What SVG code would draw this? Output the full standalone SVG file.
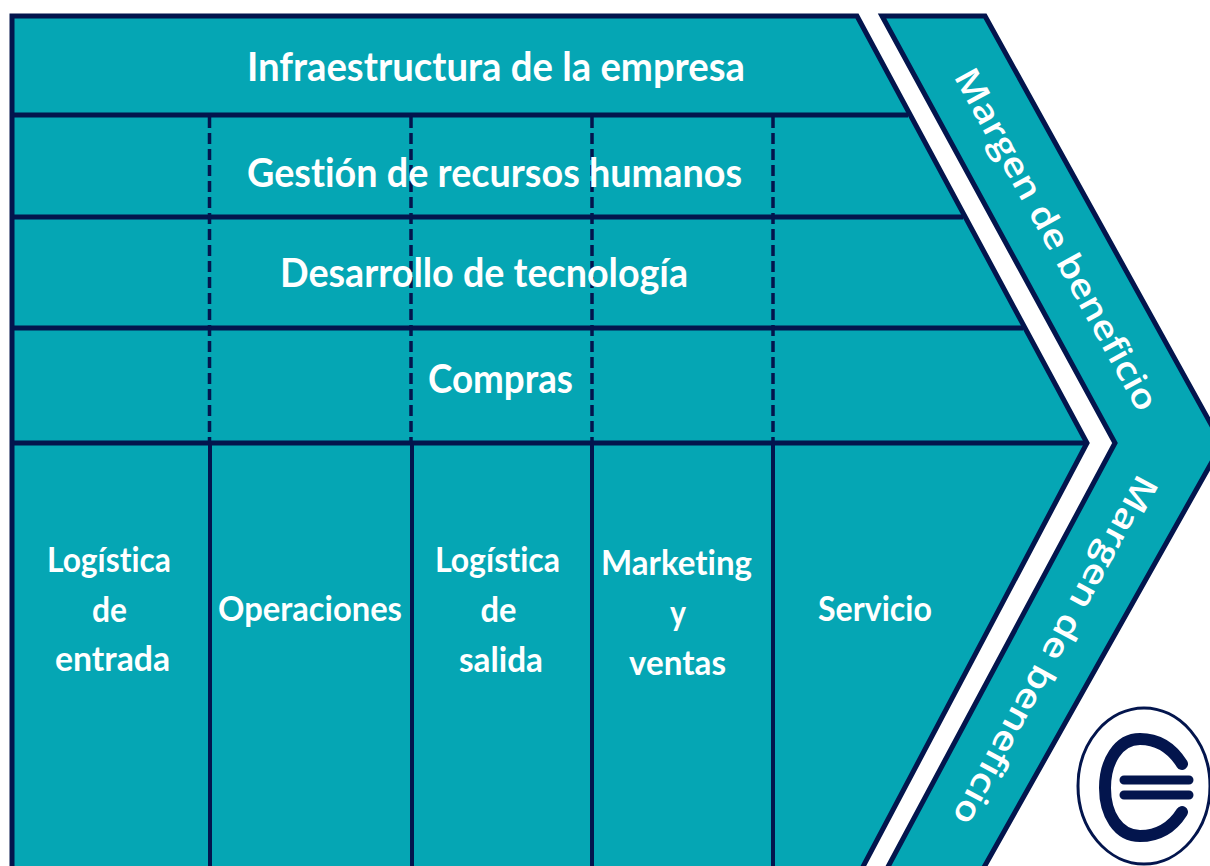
<svg xmlns="http://www.w3.org/2000/svg" width="1210" height="866" viewBox="0 0 1210 866">
<style>
.band{fill:#05a6b4;stroke:#03154d;stroke-width:5;stroke-linejoin:miter}
.line{stroke:#03154d;stroke-width:5;fill:none}
.col{stroke:#03154d;stroke-width:4;fill:none}
.dash{stroke:#03154d;stroke-width:3.500;stroke-dasharray:11 5;fill:none}
.t{font-family:"Lato","Liberation Sans",sans-serif;font-weight:700;fill:#fff;text-anchor:middle;font-variant-ligatures:none}
.big{font-size:41px}
.small{font-size:35px}
.m{font-family:"Open Sans","Liberation Sans",sans-serif;font-weight:600;font-size:34px;fill:#fff;text-anchor:middle}
.logo{stroke:#03154d;fill:none;stroke-linecap:round}
</style>
<rect width="1210" height="866" fill="#fff"/>
<g id="cadena">
<path class="band" d="M12 16H857L1087 443L857 878H12Z"/>
</g>
<g id="margen">
<path class="band" d="M882 16H985L1222 444L978 878H882L1115 443Z"/>
</g>
<g id="connectors">
<path class="line" d="M12 115H908M12 217H963M12 328H1023M12 443H1087"/>
<path class="col" d="M210 443V870M412 443V870M592 443V870M773 443V870"/>
<path class="dash" d="M209.500 117V441M411 117V441M592 117V441M773 117V441"/>
</g>
<g id="infraestructura"><text class="t big" x="496" y="81" textLength="498" lengthAdjust="spacingAndGlyphs">Infraestructura de la empresa</text></g>
<g id="rrhh"><text class="t big" x="494.500" y="187" textLength="495" lengthAdjust="spacingAndGlyphs">Gestión de recursos humanos</text></g>
<g id="tecnologia"><text class="t big" x="484" y="287" textLength="408" lengthAdjust="spacingAndGlyphs">Desarrollo de tecnología</text></g>
<g id="compras"><text class="t big" x="500.500" y="393" textLength="145" lengthAdjust="spacingAndGlyphs">Compras</text></g>
<g id="logistica-entrada"><text class="t small" x="109" y="572" textLength="124" lengthAdjust="spacingAndGlyphs">Logística</text><text class="t small" x="109.500" y="622" textLength="35" lengthAdjust="spacingAndGlyphs">de</text><text class="t small" x="112.500" y="671" textLength="115" lengthAdjust="spacingAndGlyphs">entrada</text></g>
<g id="operaciones"><text class="t small" x="310" y="621" textLength="184" lengthAdjust="spacingAndGlyphs">Operaciones</text></g>
<g id="logistica-salida"><text class="t small" x="497.500" y="572" textLength="125" lengthAdjust="spacingAndGlyphs">Logística</text><text class="t small" x="498.500" y="622" textLength="36" lengthAdjust="spacingAndGlyphs">de</text><text class="t small" x="501" y="672" textLength="84" lengthAdjust="spacingAndGlyphs">salida</text></g>
<g id="marketing"><text class="t small" x="676.500" y="575" textLength="151" lengthAdjust="spacingAndGlyphs">Marketing</text><text class="t small" x="678" y="625" textLength="16" lengthAdjust="spacingAndGlyphs">y</text><text class="t small" x="677.500" y="675" textLength="97" lengthAdjust="spacingAndGlyphs">ventas</text></g>
<g id="servicio"><text class="t small" x="875" y="621" textLength="114" lengthAdjust="spacingAndGlyphs">Servicio</text></g>
<g id="margen-sup"><text class="m" transform="translate(1046 245) rotate(61.2)" textLength="385" lengthAdjust="spacingAndGlyphs">Margen de beneficio</text></g>
<g id="margen-inf"><text class="m" transform="translate(1045 645) rotate(118.4)" textLength="392" lengthAdjust="spacingAndGlyphs">Margen de beneficio</text></g>
<g id="logo">
<ellipse class="logo" cx="1144" cy="786" rx="66" ry="78" stroke-width="3"/>
<path class="logo" stroke-width="12" d="M1182 764C1170 745 1155 739 1140 739C1118 739 1105 762 1105 788C1105 814 1118 836 1140 836C1155 836 1170 831 1182 812"/>
<path class="logo" stroke-width="9" d="M1124 780H1189M1124 795H1189"/>
</g>
</svg>
